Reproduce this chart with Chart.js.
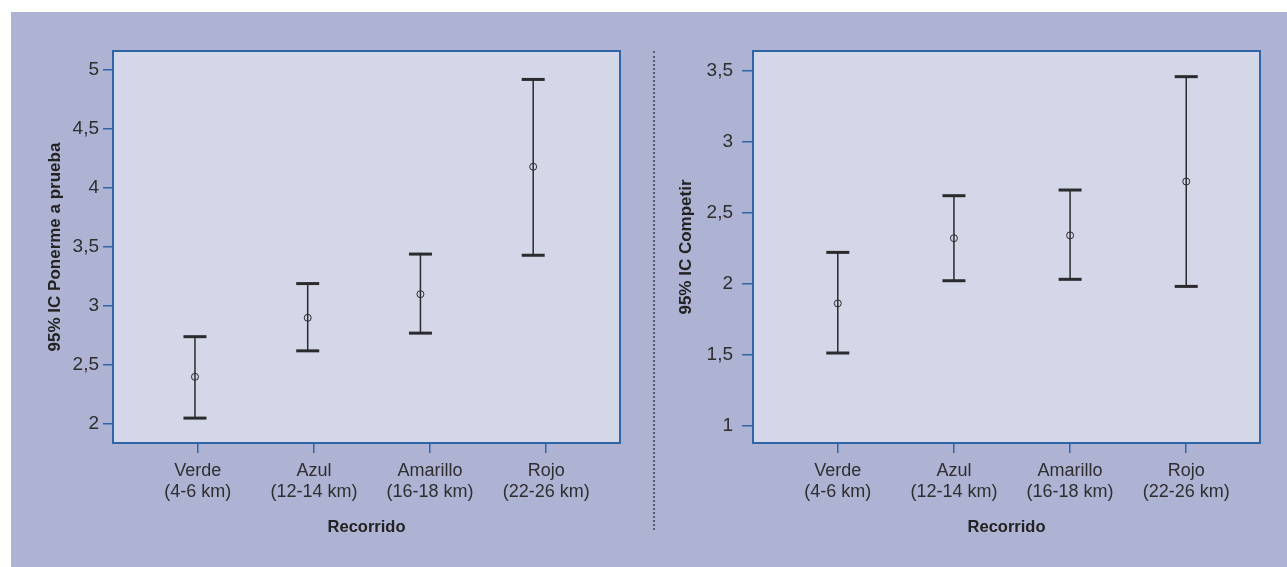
<!DOCTYPE html>
<html lang="es">
<head>
  <meta charset="UTF-8" />
  <title>IC 95% por recorrido</title>
  <script src="https://cdn.jsdelivr.net/npm/chart.js"></script>
  <style>
    html, body { margin: 0; padding: 0; background: #fff; }
    body { width: 1287px; height: 567px; position: relative; overflow: hidden; }
    .fondo { position: absolute; left: 11px; top: 12px; right: 0; bottom: 0; background: #aeb3d3; }
    .separador { position: absolute; left: 653px; top: 51px; height: 479px; border-left: 2px dotted #565a6c; }
    canvas { position: absolute; top: 0; }
    #chart-ponerme { left: 0; }
    #chart-competir { left: 654px; }
  </style>
</head>
<body>
  <div class="fondo"></div>
  <div class="separador"></div>
  <canvas id="chart-ponerme" width="654" height="567"></canvas>
  <canvas id="chart-competir" width="633" height="567"></canvas>

  <script>
    // categorias del eje x
    const recorridos = ['Verde', 'Azul', 'Amarillo', 'Rojo'];
    const distancias = ['(4-6 km)', '(12-14 km)', '(16-18 km)', '(22-26 km)'];

    // 95% IC Ponerme a prueba
    const ponermeMedia = [2.40, 2.90, 3.10, 4.18];
    const ponermeInf = [2.05, 2.62, 2.77, 3.43];
    const ponermeSup = [2.74, 3.19, 3.44, 4.92];
    const ponermeTicks = [2, 2.5, 3, 3.5, 4, 4.5, 5];

    // 95% IC Competir
    const competirMedia = [1.86, 2.32, 2.34, 2.72];
    const competirInf = [1.51, 2.02, 2.03, 1.98];
    const competirSup = [2.22, 2.62, 2.66, 3.46];
    const competirTicks = [1, 1.5, 2, 2.5, 3, 3.5];

    const AZUL = '#2f64a7';
    const TEXTO = '#2e2e30';
    const LINEA = '#2b2a2e';
    const FUENTE = '"Liberation Sans", Arial, sans-serif';

    // fondo y marco del area de trazado
    const marcoPlot = {
      id: 'marcoPlot',
      beforeDraw(chart) {
        const a = chart.chartArea, ctx = chart.ctx;
        ctx.save();
        ctx.fillStyle = '#d3d7e8';
        ctx.fillRect(a.left, a.top, a.right - a.left, a.bottom - a.top);
        ctx.restore();
      },
      afterDraw(chart) {
        const a = chart.chartArea, ctx = chart.ctx;
        ctx.save();
        ctx.strokeStyle = AZUL;
        ctx.lineWidth = 2;
        ctx.strokeRect(a.left, a.top, a.right - a.left, a.bottom - a.top);
        ctx.restore();
      }
    };

    function formatoComa(v) {
      return String(v).replace('.', ',');
    }

    function crearPanel(id, p) {
      // bigotes: un tramo por recorrido, separados con null
      const bigotes = [];
      const topes = [];
      recorridos.forEach((r, i) => {
        bigotes.push({ x: i + 1, y: p.inf[i] }, { x: i + 1, y: p.sup[i] }, { x: i + 1, y: null });
        topes.push({ x: i + 1, y: p.inf[i] }, { x: i + 1, y: p.sup[i] });
      });
      const medias = p.media.map((m, i) => ({ x: i + 1, y: m }));

      return new Chart(document.getElementById(id), {
        type: 'scatter',
        data: {
          datasets: [
            {
              type: 'line', data: bigotes, xAxisID: 'xd', spanGaps: false,
              borderColor: LINEA, borderWidth: 1.5, pointRadius: 0
            },
            {
              data: topes, xAxisID: 'xd', pointStyle: 'line', pointRadius: 11.5,
              borderColor: LINEA, borderWidth: 3
            },
            {
              data: medias, xAxisID: 'xd', pointStyle: 'circle', pointRadius: 3.5,
              borderColor: LINEA, borderWidth: 1, backgroundColor: 'rgba(0,0,0,0)'
            }
          ]
        },
        options: {
          responsive: false,
          animation: false,
          events: [],
          layout: { padding: { top: 51, right: p.padDer, left: 0, bottom: 0 } },
          plugins: { legend: { display: false }, tooltip: { enabled: false } },
          scales: {
            xd: { type: 'linear', display: false, min: p.datoMin, max: p.datoMax },
            x: {
              type: 'linear', position: 'bottom', min: 0.27, max: 4.635,
              afterBuildTicks: s => { s.ticks = recorridos.map((r, i) => ({ value: i + 1 })); },
              afterFit: s => { s.height = 124; },
              ticks: {
                callback: v => [recorridos[v - 1], distancias[v - 1]],
                font: { family: FUENTE, size: 18, lineHeight: 1.167 },
                color: TEXTO, padding: 8, maxRotation: 0, autoSkip: false
              },
              grid: { drawOnChartArea: false, tickLength: 10, color: AZUL, lineWidth: 1.5 },
              border: { display: false },
              title: {
                display: true, text: 'Recorrido', color: '#222',
                font: { family: FUENTE, size: 16.5, weight: 'bold' },
                padding: { top: 0, bottom: 30 }
              }
            },
            y: {
              type: 'linear', min: p.yMin, max: p.yMax,
              afterBuildTicks: s => { s.ticks = p.ticks.map(v => ({ value: v })); },
              afterFit: s => { s.width = p.anchoEje; },
              ticks: {
                callback: v => formatoComa(v),
                font: { family: FUENTE, size: 19 },
                color: TEXTO, padding: p.tickPad
              },
              grid: { drawOnChartArea: false, tickLength: p.tickLen, color: AZUL, lineWidth: 1.5 },
              border: { display: false },
              title: {
                display: true, text: p.titulo, color: '#222',
                font: { family: FUENTE, size: 17, weight: 'bold' },
                padding: { top: p.tituloPad, bottom: 0 }
              }
            }
          }
        },
        plugins: [marcoPlot]
      });
    }

    crearPanel('chart-ponerme', {
      titulo: '95% IC Ponerme a prueba',
      media: ponermeMedia, inf: ponermeInf, sup: ponermeSup, ticks: ponermeTicks,
      yMin: 1.839, yMax: 5.161, datoMin: 0.273, datoMax: 4.77,
      anchoEje: 113, padDer: 34, tituloPad: 45, tickLen: 10, tickPad: 4
    });

    crearPanel('chart-competir', {
      titulo: '95% IC Competir',
      media: competirMedia, inf: competirInf, sup: competirSup, ticks: competirTicks,
      yMin: 0.875, yMax: 3.641, datoMin: 0.27, datoMax: 4.635,
      anchoEje: 99, padDer: 27, tituloPad: 22, tickLen: 11, tickPad: 9
    });
  </script>
</body>
</html>
